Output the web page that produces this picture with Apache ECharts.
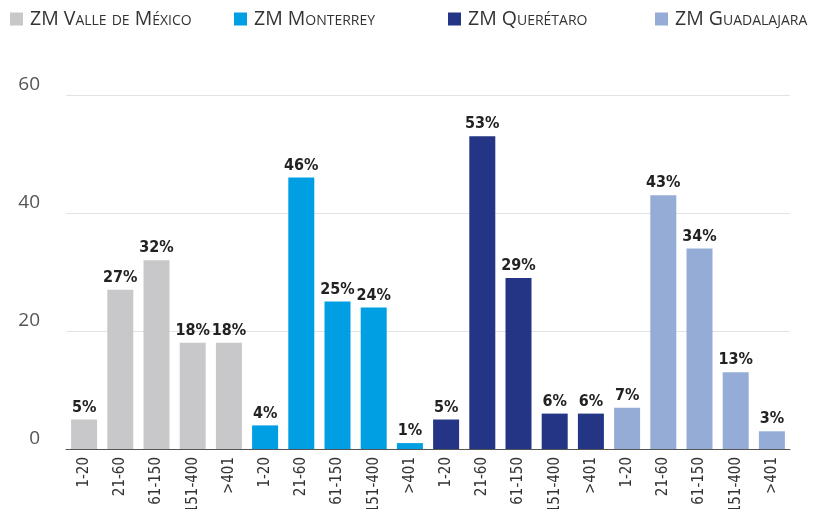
<!DOCTYPE html>
<html>
<head>
<meta charset="utf-8">
<script src="https://cdn.jsdelivr.net/npm/echarts@6/dist/echarts.min.js"></script>
<style>
  html, body { margin: 0; padding: 0; background: #fff; }
  #main { width: 814px; height: 509px; }
</style>
</head>
<body>
<div id="main"></div>
<script>
var ranges = ['1-20', '21-60', '61-150', '151-400', '>401'];
var categories = [].concat(ranges, ranges, ranges, ranges);

var names = ['ZM Valle de México', 'ZM Monterrey', 'ZM Querétaro', 'ZM Guadalajara'];
var valle = [5, 27, 32, 18, 18];
var monterrey = [4, 46, 25, 24, 1];
var queretaro = [5, 53, 29, 6, 6];
var guadalajara = [7, 43, 34, 13, 3];
var colors = ['#c8c8ca', '#009fe3', '#253585', '#94acd6'];
var legendLeft = [10, 234, 448, 655];

var narrow = '"Liberation Sans Narrow", "DejaVu Sans Condensed", sans-serif';

var chart = echarts.init(document.getElementById('main'));

var groups = [valle, monterrey, queretaro, guadalajara];
var series = groups.map(function (vals, g) {
  var data = [];
  for (var i = 0; i < categories.length; i++) {
    var k = i - g * 5;
    data.push(k >= 0 && k < 5 ? vals[k] : '-');
  }
  return {
    name: names[g],
    type: 'bar',
    data: data,
    barWidth: 26,
    barGap: '-100%',
    itemStyle: { color: colors[g] },
    label: {
      show: true,
      position: 'top',
      distance: 4,
      formatter: '{c}%',
      color: '#222',
      fontSize: 16,
      fontWeight: 'bold',
      fontFamily: narrow
    }
  };
});

var legends = names.map(function (n, g) {
  return {
    data: [n],
    left: legendLeft[g],
    top: 9,
    padding: 0,
    icon: 'rect',
    itemWidth: 13,
    itemHeight: 13,
    itemGap: 0,
    selectedMode: false,
    textStyle: {
      color: '#333',
      fontSize: 19.5,
      fontStyle: 'normal small-caps',
      fontFamily: 'Open Sans',
      padding: [0, 0, 0, 2]
    }
  };
});

var option = {
  animation: false,
  legend: legends,
  grid: { left: 66, right: 24, top: 95, bottom: 60, outerBoundsMode: 'none' },
  xAxis: {
    type: 'category',
    data: categories,
    axisTick: { show: false },
    axisLine: { lineStyle: { color: '#555', width: 1 } },
    axisLabel: {
      rotate: 90,
      interval: 0,
      margin: 8,
      color: '#333',
      fontSize: 15,
      fontFamily: narrow
    }
  },
  yAxis: {
    type: 'value',
    min: 0,
    max: 60,
    interval: 20,
    axisLine: { show: false },
    axisTick: { show: false },
    splitLine: { lineStyle: { color: '#e3e3e3' } },
    axisLabel: {
      color: '#555',
      fontSize: 19,
      margin: 26,
      verticalAlign: 'bottom',
      padding: [0, 0, 1, 0],
      fontFamily: 'Open Sans'
    }
  },
  series: series
};

chart.setOption(option);
</script>
</body>
</html>
